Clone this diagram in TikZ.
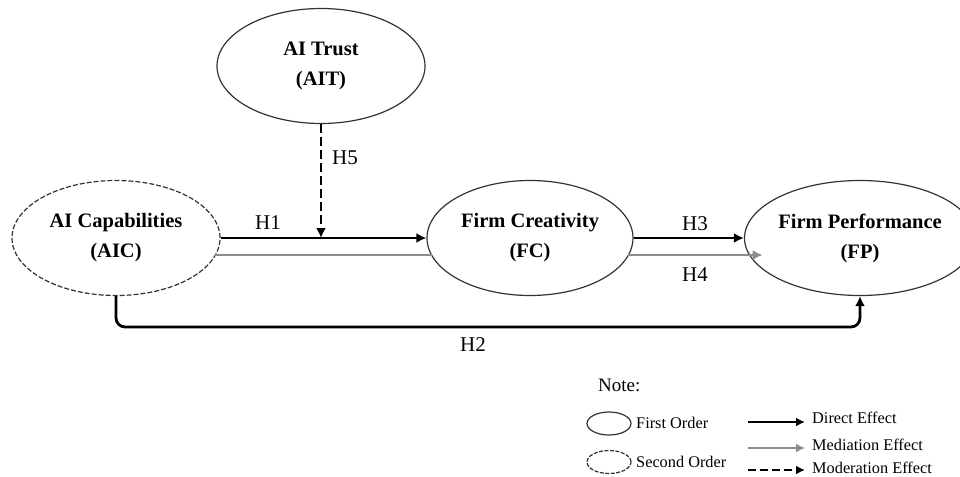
\documentclass[tikz,border=0pt]{standalone}
\usepackage{fontspec}
\setmainfont{Liberation Serif}
\usetikzlibrary{shapes.geometric,arrows.meta,calc}
\definecolor{medgray}{HTML}{8C8C8C}
\definecolor{edgegray}{HTML}{333333}
\begin{document}
\begin{tikzpicture}[x=1pt,y=-1pt,
  construct/.style={ellipse, draw=edgegray, line width=1.2pt, minimum width=208pt, minimum height=115pt, inner sep=0pt, align=center, font=\fontsize{20.5}{30}\selectfont\bfseries},
  secondorder/.style={construct, dash pattern=on 5pt off 2pt},
  direct/.style={line width=2.8pt, -{Latex[length=10pt,width=10pt]}},
  mediation/.style={line width=2.8pt, draw=medgray},
  mediationarrow/.style={mediation, -{Latex[length=10pt,width=10pt]}, color=medgray},
  moderation/.style={line width=2.4pt, dash pattern=on 9pt off 4pt, -{Latex[length=10pt,width=10pt]}},
  hlabel/.style={font=\fontsize{21}{25}\selectfont, inner sep=0pt},
  legtext/.style={font=\fontsize{16.3}{20}\selectfont, anchor=west, inner sep=0pt},
  legell/.style={ellipse, draw=edgegray, line width=1.2pt, minimum width=44pt, minimum height=23pt, inner sep=0pt},
]
\useasboundingbox (0,0) rectangle (960,476);

% constructs
\node[construct] (AIT) at (321,66) {AI Trust\\(AIT)};
\node[secondorder] (AIC) at (116,238) {AI Capabilities\\(AIC)};
\node[construct, minimum width=206pt] (FC) at (530,238) {Firm Creativity\\(FC)};
\node[construct, minimum width=204pt] (FP) at (860,238) {Firm Performance\\(FP)};

% direct paths
\draw[direct] (AIC.east) -- (FC.west);
\draw[direct] (FC.east) -- (FP.west);
% mediation path (points on the ellipse outlines, 17pt below the centres)
\coordinate (m1) at ($(AIC.center)+(99.3,17)$);
\coordinate (m2) at ($(FC.center)+(-98.4,17)$);
\coordinate (m3) at ($(FC.center)+(98.4,17)$);
\coordinate (m4) at ($(FP.center)+(-97.4,17)$);
\draw[mediation] (m1) -- (m2);
\draw[mediationarrow] (m3) -- (m4);
% moderation
\coordinate (mod) at (AIT.south |- AIC.east);
\draw[moderation] (AIT.south) -- (mod);
% H2
\coordinate (h2a) at (116,327);
\coordinate (h2b) at (860,327);
\draw[direct, rounded corners=9pt] (AIC.south) -- (h2a) -- (h2b) -- (FP.south);

% labels
\node[hlabel] (H1) at (268,223) {H1};
\node[hlabel] (H3) at (695,224) {H3};
\node[hlabel] (H4) at (695,275) {H4};
\node[hlabel] (H5) at (345,158) {H5};
\node[hlabel] (H2) at (473,345) {H2};

% legend
\node[legtext, font=\fontsize{19}{22}\selectfont] (note) at (598,385) {Note:};
\node[legell] (l1) at (609,423.5) {};
\node[legtext] (t1) at (636,423) {First Order};
\node[legell, dash pattern=on 4pt off 1.5pt] (l2) at (609,462) {};
\node[legtext] (t2) at (636,462) {Second Order};

\node[legtext] (e1) at (812,418) {Direct Effect};
\node[legtext] (e2) at (812,445) {Mediation Effect};
\node[legtext] (e3) at (812,468) {Moderation Effect};
\coordinate (a1) at (748,422);
\coordinate (b1) at (805,422);
\coordinate (a2) at (748,448);
\coordinate (b2) at (805,448);
\coordinate (a3) at (748,470);
\coordinate (b3) at (805,470);
\draw[line width=2.2pt, -{Latex[length=9pt,width=9pt]}] (a1) -- (b1);
\draw[line width=2.2pt, medgray, -{Latex[length=9pt,width=9pt]}] (a2) -- (b2);
\draw[line width=2.2pt, dash pattern=on 8pt off 4pt, -{Latex[length=9pt,width=9pt]}] (a3) -- (b3);
\end{tikzpicture}
\end{document}
